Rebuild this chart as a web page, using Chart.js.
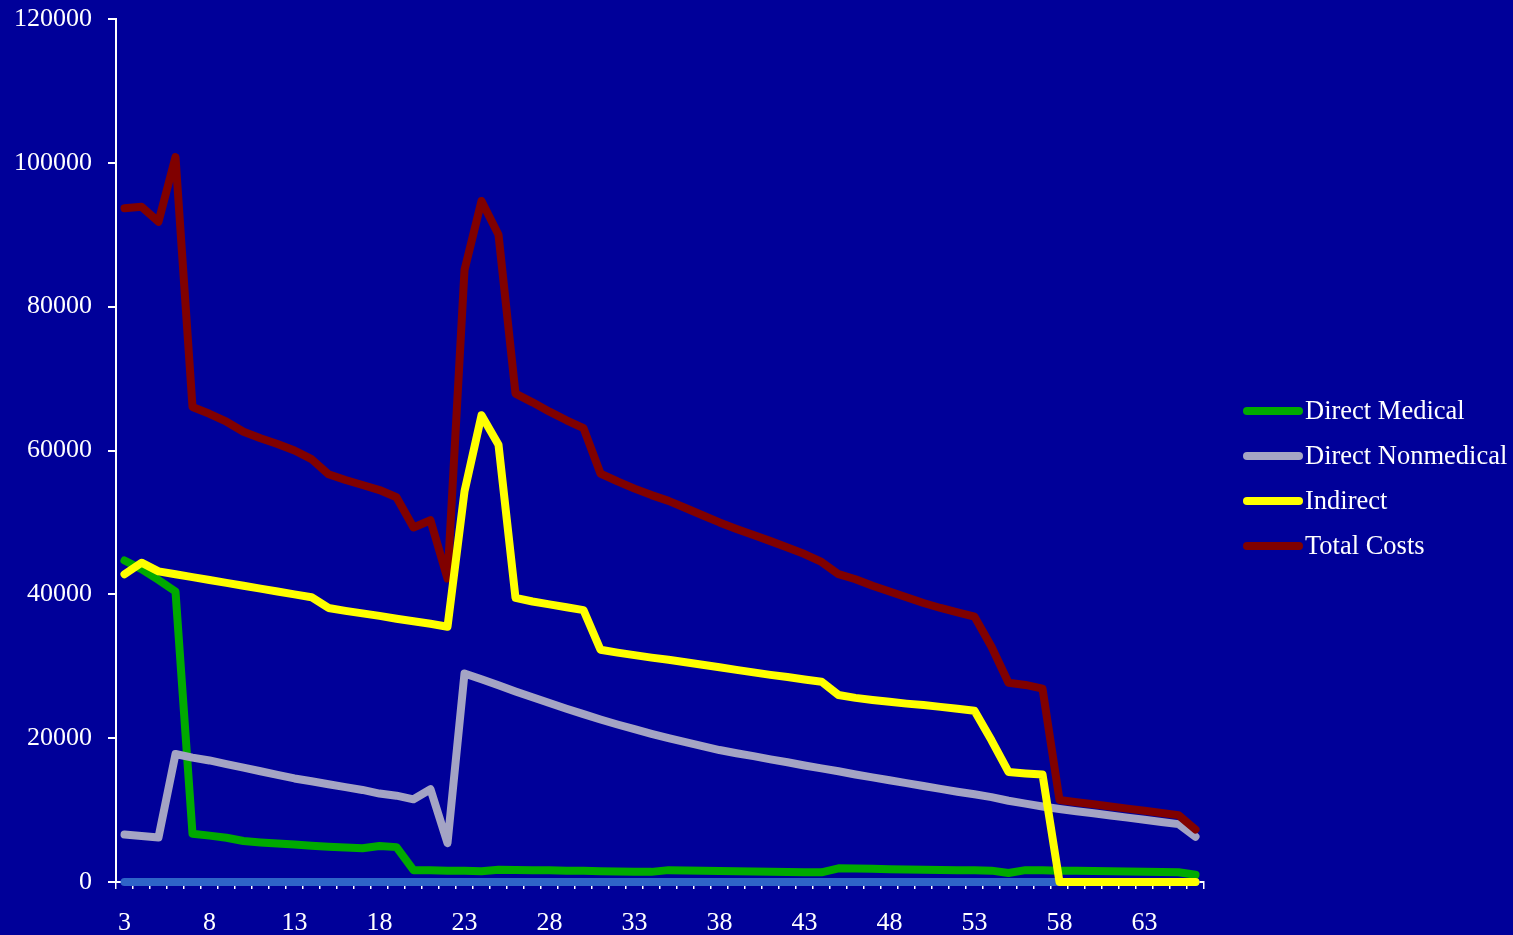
<!DOCTYPE html>
<html>
<head>
<meta charset="utf-8">
<script src="https://cdn.jsdelivr.net/npm/chart.js@4.4.1/dist/chart.umd.min.js"></script>
<style>
  html, body { margin: 0; padding: 0; background: #000099; }
  #wrap { width: 1513px; height: 935px; }
</style>
</head>
<body>
<div id="wrap"><canvas id="c" width="1513" height="935"></canvas></div>
<script>
const categories = ['3','4','5','6','7','8','9','10','11','12','13','14','15','16','17','18','19','20','21','22','23','24','25','26','27','28','29','30','31','32','33','34','35','36','37','38','39','40','41','42','43','44','45','46','47','48','49','50','51','52','53','54','55','56','57','58','59','60','61','62','63','64','65','66'];

const directMedical = [44700,43500,42000,40400,6700,6450,6150,5700,5500,5350,5200,5050,4900,4800,4700,5000,4850,1650,1620,1580,1550,1500,1700,1680,1650,1620,1580,1550,1500,1470,1440,1410,1650,1600,1560,1520,1490,1460,1430,1400,1370,1340,1900,1870,1830,1790,1750,1710,1680,1650,1620,1580,1250,1650,1620,1580,1550,1520,1490,1460,1430,1400,1350,1000];

const directNonmedical = [6600,6400,6200,17800,17300,16900,16400,15900,15400,14900,14400,14000,13600,13200,12800,12300,12000,11500,12900,5400,29000,28200,27350,26500,25700,24900,24100,23350,22600,21900,21250,20600,20000,19450,18900,18350,17900,17500,17050,16650,16200,15800,15400,14950,14550,14150,13750,13350,12950,12550,12200,11800,11300,10900,10500,10150,9850,9550,9250,8950,8650,8350,8050,6300];

const indirect = [42800,44400,43200,42800,42400,42000,41600,41200,40800,40400,40000,39600,38100,37700,37350,37000,36600,36250,35900,35500,54300,64900,60800,39500,39000,38600,38200,37800,32300,31900,31550,31200,30900,30550,30200,29850,29500,29150,28800,28500,28150,27850,26000,25600,25300,25050,24800,24600,24350,24100,23800,19700,15300,15100,14950,0,0,0,0,0,0,0,0,0];

const totalCosts = [93700,93900,91800,100800,66050,65100,64000,62600,61700,60900,60000,58800,56700,55900,55200,54500,53500,49300,50300,42200,85100,94700,90000,67900,66700,65400,64200,63100,56800,55700,54700,53800,53000,52000,51000,50000,49100,48250,47400,46500,45600,44500,42800,42100,41200,40400,39600,38800,38100,37500,36900,32700,27700,27400,26900,11400,11100,10800,10500,10200,9900,9600,9300,7300];

const zeroSeries = [0,0,0,0,0,0,0,0,0,0,0,0,0,0,0,0,0,0,0,0,0,0,0,0,0,0,0,0,0,0,0,0,0,0,0,0,0,0,0,0,0,0,0,0,0,0,0,0,0,0,0,0,0,0,0,0,0,0,0,0,0,0,0,0];

const legendLabels = ['Direct Medical', 'Direct Nonmedical', 'Indirect', 'Total Costs'];
const seriesColors = ['#00AA00', '#A4A4C4', '#FFFF00', '#800000'];
const zeroColor = '#2E64C8';
const yTicks = [0, 20000, 40000, 60000, 80000, 100000, 120000];

const FONT = "'Liberation Serif', 'Times New Roman', serif";

const bgPlugin = {
  id: 'bg',
  beforeDraw(chart) {
    const ctx = chart.ctx;
    ctx.save();
    ctx.fillStyle = '#000099';
    ctx.fillRect(0, 0, chart.width, chart.height);
    ctx.restore();
  }
};

const legendPlugin = {
  id: 'customLegend',
  afterDraw(chart) {
    const ctx = chart.ctx;
    ctx.save();
    const x0 = 1247, x1 = 1299, tx = 1305;
    const ys = [411, 456, 501, 546];
    legendLabels.forEach((lab, i) => {
      ctx.strokeStyle = seriesColors[i];
      ctx.lineWidth = 8;
      ctx.lineCap = 'round';
      ctx.beginPath();
      ctx.moveTo(x0, ys[i]);
      ctx.lineTo(x1, ys[i]);
      ctx.stroke();
      ctx.fillStyle = '#FFFFFF';
      ctx.font = '26.5px ' + FONT;
      ctx.textBaseline = 'middle';
      ctx.textAlign = 'left';
      ctx.fillText(lab, tx, ys[i] + 1);
    });
    ctx.restore();
  }
};

function ds(label, data, color, order) {
  return {
    label, data,
    borderColor: color,
    backgroundColor: color,
    borderWidth: 8,
    borderCapStyle: 'round',
    borderJoinStyle: 'round',
    pointRadius: 0,
    pointHoverRadius: 0,
    tension: 0,
    fill: false,
    clip: false,
    order
  };
}

new Chart(document.getElementById('c'), {
  type: 'line',
  data: {
    labels: categories,
    datasets: [
      ds(legendLabels[0], directMedical, seriesColors[0], 3),
      ds(legendLabels[1], directNonmedical, seriesColors[1], 2),
      ds(legendLabels[2], indirect, seriesColors[2], 0),
      ds(legendLabels[3], totalCosts, seriesColors[3], 1),
      ds('', zeroSeries, zeroColor, 4)
    ]
  },
  options: {
    responsive: false,
    animation: false,
    events: [],
    layout: { padding: { top: 19, right: 309, left: 0, bottom: 0 } },
    plugins: { legend: { display: false }, tooltip: { enabled: false }, title: { display: false } },
    scales: {
      x: {
        type: 'category',
        offset: true,
        grid: { offset: true, drawOnChartArea: false, drawTicks: true, tickLength: 7, color: '#FFFFFF', lineWidth: 1.5 },
        border: { color: '#FFFFFF', width: 2 },
        ticks: {
          autoSkip: false, maxRotation: 0, minRotation: 0,
          color: '#FFFFFF', padding: 19,
          font: { family: FONT, size: 26 },
          callback: (v, i) => (i % 5 === 0 ? categories[i] : '')
        },
        afterFit: s => { s.height = 53; s.paddingLeft = 0; s.paddingRight = 0; }
      },
      y: {
        min: 0, max: 120000,
        afterBuildTicks: s => { s.ticks = yTicks.map(v => ({ value: v })); },
        grid: { drawOnChartArea: false, drawTicks: true, tickLength: 8, color: '#FFFFFF', lineWidth: 2 },
        border: { color: '#FFFFFF', width: 2 },
        ticks: {
          color: '#FFFFFF', padding: 16,
          font: { family: FONT, size: 26 },
          callback: v => String(v)
        },
        afterFit: s => { s.width = 116; s.paddingTop = 0; s.paddingBottom = 0; }
      }
    }
  },
  plugins: [bgPlugin, legendPlugin]
});
</script>
</body>
</html>
